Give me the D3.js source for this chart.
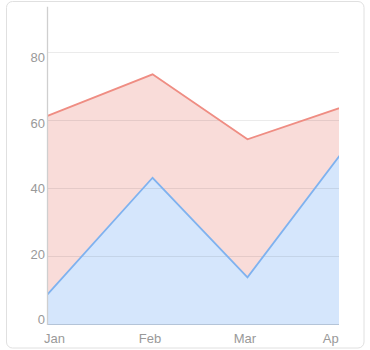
<!DOCTYPE html>
<html>
<head>
<meta charset="utf-8">
<script src="https://cdn.jsdelivr.net/npm/d3@7"></script>
<style>
  html, body { margin: 0; padding: 0; background: #fff; }
  svg { display: block; font-family: "Liberation Sans", Arial, sans-serif; }
</style>
</head>
<body>
<svg id="chart" width="370" height="350"></svg>
<script>
const months = ["Jan", "Feb", "Mar", "Apr"];
const dates = ["2023-01-01", "2023-02-01", "2023-03-01", "2023-04-01"];
const seriesRed = [61.2, 73.4, 54.3, 64.8];
const seriesBlue = [8.7, 43.0, 13.7, 54.5];
const yTicks = [0, 20, 40, 60, 80];

(function () {
const parse = d3.utcParse("%Y-%m-%d");
const data = dates.map((d, i) => ({ date: parse(d), m: months[i], r: seriesRed[i], b: seriesBlue[i] }));

const svg = d3.select("#chart");
const mLeft = 47.5, mRight = 339, mTop = 6.7, mBottom = 324;

// card
svg.append("rect").attr("x", 6.5).attr("y", 1.5).attr("width", 357.5).attr("height", 346.5)
  .attr("rx", 6).attr("fill", "#fff").attr("stroke", "#e0e0e0").attr("stroke-width", 1);

const x = d3.scaleUtc().domain([parse("2023-01-01"), parse("2023-03-28")]).range([mLeft, mRight]);
const y = d3.scaleLinear().domain([0, 93.3]).range([mBottom, mTop]);
const yLab = d3.scaleLinear().domain([0, 80]).range([324.3, 62]);

svg.append("clipPath").attr("id", "clip").append("rect")
  .attr("x", 0).attr("y", 0).attr("width", mRight).attr("height", 350);

const g = svg.append("g").attr("clip-path", "url(#clip)");

const areaR = d3.area().x(d => x(d.date)).y0(y(0)).y1(d => y(d.r));
const areaB = d3.area().x(d => x(d.date)).y0(y(0)).y1(d => y(d.b));
const lineR = d3.line().x(d => x(d.date)).y(d => y(d.r));
const lineB = d3.line().x(d => x(d.date)).y(d => y(d.b));

g.append("path").datum(data).attr("d", areaR).attr("fill", "#f9dcd9");
g.append("path").datum(data).attr("d", areaB).attr("fill", "#d5e6fc");

// grid
g.append("g").selectAll("line").data(yTicks.filter(t => t > 0)).join("line")
  .attr("x1", mLeft).attr("x2", mRight)
  .attr("y1", d => Math.round(y(d)) + 0.5).attr("y2", d => Math.round(y(d)) + 0.5)
  .attr("stroke", "rgba(0,0,0,0.08)").attr("stroke-width", 1);

g.append("path").datum(data).attr("d", lineR).attr("fill", "none")
  .attr("stroke", "#ef8d83").attr("stroke-width", 1.8).attr("stroke-linejoin", "miter");
g.append("path").datum(data).attr("d", lineB).attr("fill", "none")
  .attr("stroke", "#7fb2ef").attr("stroke-width", 1.8).attr("stroke-linejoin", "miter");

// axes lines
g.append("line").attr("x1", mLeft).attr("x2", mRight).attr("y1", mBottom + 0.5).attr("y2", mBottom + 0.5)
  .attr("stroke", "#b4c4d8").attr("stroke-width", 1.2);
svg.append("line").attr("x1", mLeft).attr("x2", mLeft).attr("y1", mTop).attr("y2", mBottom + 1)
  .attr("stroke", "#cfcfcf").attr("stroke-width", 1.3);

// y labels
svg.append("g").selectAll("text").data(yTicks).join("text")
  .attr("x", 45).attr("y", d => yLab(d))
  .attr("text-anchor", "end").attr("fill", "#999").attr("font-size", 13)
  .text(d => d);

// x labels
g.append("g").selectAll("text").data(data).join("text")
  .attr("x", (d, i) => i === 0 ? x(d.date) - 3.5 : (i === data.length - 1 ? x(d.date) - 9.5 : x(d.date) - 2.5))
  .attr("y", 343)
  .attr("text-anchor", (d, i) => i === 0 ? "start" : (i === data.length - 1 ? "end" : "middle"))
  .attr("fill", "#999").attr("font-size", 13)
  .text(d => d.m);
})();
</script>
</body>
</html>
